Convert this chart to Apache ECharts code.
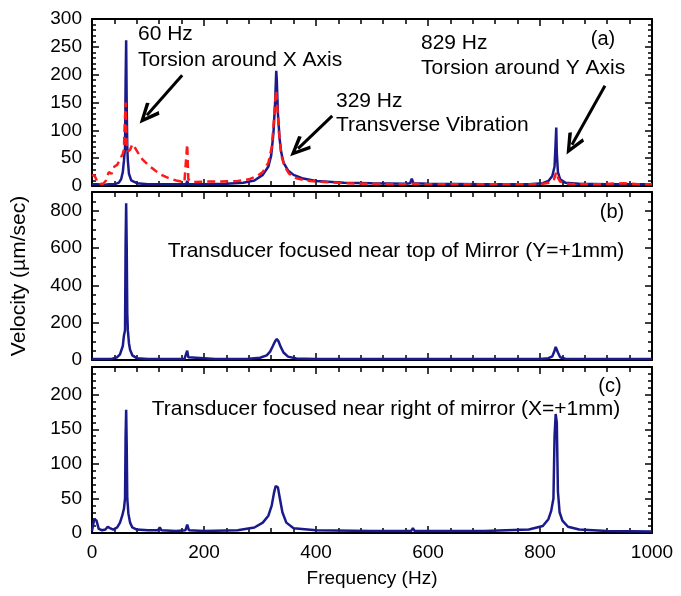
<!DOCTYPE html>
<html>
<head>
<meta charset="utf-8">
<script src="https://cdn.jsdelivr.net/npm/echarts@6/dist/echarts.min.js"></script>
<style>
  html, body { margin: 0; padding: 0; background: #fff; }
  #chart { width: 681px; height: 596px; }
</style>
</head>
<body>
<div id="chart"></div>
<script>
// spectra: [frequency Hz, velocity um/sec]
const panelABlue = [
  [0, 3], [10, 3], [20, 2], [30, 3], [40, 3], [48, 6], [52, 12], [55, 25], [57, 45], [59, 70],
  [60, 185], [61, 262], [62, 140], [63, 70], [64, 45], [66, 22], [70, 10], [80, 5], [100, 3],
  [130, 3], [160, 3], [168, 3], [170, 9], [172, 3], [200, 3], [240, 4], [270, 6], [290, 10],
  [305, 20], [315, 35], [320, 55], [324, 95], [327, 150], [329, 207], [330, 190], [332, 130],
  [335, 85], [338, 60], [342, 42], [350, 28], [360, 20], [375, 14], [400, 9], [450, 6],
  [500, 5], [560, 4], [568, 5], [571, 13], [574, 5], [600, 4], [700, 3], [780, 3], [805, 5],
  [815, 9], [822, 18], [826, 35], [828, 80], [829, 105], [830, 60], [832, 25], [836, 12],
  [845, 6], [870, 4], [920, 3], [1000, 3]
];
const panelARed = [
  [0, 20], [5, 18], [10, 6], [15, 4], [20, 4], [25, 10], [30, 25], [35, 22], [40, 35], [45, 38],
  [50, 48], [55, 58], [57, 65], [58, 100], [60, 150], [61, 110], [62, 75], [64, 62], [68, 65],
  [72, 75], [76, 70], [82, 60], [90, 48], [100, 38], [110, 30], [120, 22], [135, 15], [150, 10],
  [165, 7], [168, 10], [170, 75], [172, 12], [180, 7], [200, 8], [230, 8], [260, 9], [280, 12],
  [295, 18], [305, 25], [315, 42], [321, 70], [325, 120], [328, 165], [329, 172], [331, 140],
  [334, 95], [338, 55], [344, 35], [352, 22], [365, 14], [380, 10], [400, 8], [450, 5],
  [500, 4], [560, 3], [575, 4], [600, 3], [700, 3], [800, 3], [818, 6], [825, 12], [829, 25],
  [832, 15], [836, 8], [850, 4], [900, 3], [950, 5], [975, 3], [1000, 3]
];
const panelBBlue = [
  [0, 5], [20, 5], [35, 6], [45, 15], [50, 30], [55, 75], [57, 130], [59, 160], [60, 620],
  [61, 840], [62, 600], [63, 250], [64, 160], [66, 90], [68, 55], [72, 25], [80, 10], [100, 6],
  [140, 5], [165, 5], [168, 15], [170, 50], [172, 15], [175, 5], [220, 5], [280, 7], [300, 12],
  [312, 25], [318, 45], [323, 75], [327, 100], [330, 112], [333, 100], [337, 70], [342, 40],
  [350, 18], [365, 8], [400, 5], [500, 5], [572, 5], [575, 12], [578, 5], [700, 5], [800, 6],
  [815, 10], [822, 20], [826, 50], [828, 70], [830, 75], [832, 40], [836, 15], [845, 7],
  [900, 5], [1000, 5]
];
const panelCBlue = [
  [0, 3], [4, 20], [8, 18], [12, 6], [18, 4], [24, 5], [28, 9], [32, 7], [38, 5], [45, 8],
  [50, 15], [54, 25], [57, 35], [59, 50], [60, 140], [61, 178], [62, 125], [63, 50], [65, 28],
  [68, 15], [72, 8], [80, 5], [100, 4], [118, 4], [121, 8], [124, 4], [150, 3], [167, 4],
  [170, 12], [173, 4], [200, 3], [260, 4], [290, 8], [305, 15], [315, 25], [321, 40],
  [325, 58], [328, 68], [330, 70], [332, 66], [335, 52], [340, 30], [347, 15], [360, 7],
  [400, 4], [500, 3], [570, 3], [573, 7], [576, 3], [700, 3], [780, 5], [805, 10], [815, 20],
  [820, 32], [824, 50], [826, 140], [828, 172], [830, 160], [832, 60], [835, 30], [840, 18],
  [850, 9], [870, 5], [920, 3], [1000, 2]
];

// axis settings
const freqMin = 0, freqMax = 1000, freqStep = 200;
const yMaxA = 300, yStepA = 50;
const yMaxB = 900, yStepB = 200;
const yMaxC = 240, yStepC = 50;

// arrows in data coords of panel (a): [tail, head centre]
const arrows = [
  [[161, 199], [98, 127]],
  [[429, 126], [368, 67]],
  [[916, 180], [857, 74]]
];

const navy = '#1a1a8c';
const red = '#ff1a1a';
const font = 'Liberation Sans, Arial, sans-serif';
const grids = [
  { left: 92, right: 29, top: 19, height: 167 },
  { left: 92, right: 29, top: 192, height: 168 },
  { left: 92, right: 29, top: 367, height: 166 }
];

function xAxisFor(gridIndex, position, showLabels) {
  return {
    type: 'value', gridIndex, position, min: freqMin, max: freqMax, interval: freqStep,
    axisLine: { show: true, onZero: false, lineStyle: { color: '#000', width: 2 } },
    axisTick: { show: true, inside: true, length: 7, lineStyle: { color: '#000', width: 1.5 } },
    minorTick: { show: true, splitNumber: 5, length: 5, lineStyle: { color: '#000', width: 1.5 } },
    axisLabel: {
      show: showLabels, color: '#000', fontSize: 19, fontFamily: font, margin: 10,
      formatter: (v) => String(v)
    },
    splitLine: { show: false },
    name: showLabels ? 'Frequency (Hz)' : '',
    nameLocation: 'middle', nameGap: 36,
    nameTextStyle: { color: '#000', fontSize: 19, fontFamily: font }
  };
}
function yAxisFor(gridIndex, position, max, step, minors, showLabels) {
  return {
    type: 'value', gridIndex, position, min: 0, max, interval: step,
    axisLine: { show: true, onZero: false, lineStyle: { color: '#000', width: 2 } },
    axisTick: { show: true, inside: true, length: 7, lineStyle: { color: '#000', width: 1.5 } },
    minorTick: { show: true, splitNumber: minors, length: 4, lineStyle: { color: '#000', width: 1.5 } },
    axisLabel: { show: showLabels, color: '#000', fontSize: 19, fontFamily: font, margin: 10, showMaxLabel: max % step === 0 },
    splitLine: { show: false }
  };
}

const xAxes = [], yAxes = [];
[0, 1, 2].forEach((g) => {
  xAxes.push(xAxisFor(g, 'bottom', g === 2));
  xAxes.push(xAxisFor(g, 'top', false));
});
yAxes.push(yAxisFor(0, 'left', yMaxA, yStepA, 5, true));
yAxes.push(yAxisFor(0, 'right', yMaxA, yStepA, 5, false));
yAxes.push(yAxisFor(1, 'left', yMaxB, yStepB, 4, true));
yAxes.push(yAxisFor(1, 'right', yMaxB, yStepB, 4, false));
yAxes.push(yAxisFor(2, 'left', yMaxC, yStepC, 5, true));
yAxes.push(yAxisFor(2, 'right', yMaxC, yStepC, 5, false));

function lineSeries(name, data, xi, yi, color, dashed) {
  return {
    name, type: 'line', xAxisIndex: xi, yAxisIndex: yi, data,
    symbol: 'none', silent: true, animation: false, z: dashed ? 3 : 2,
    lineStyle: { color, width: 2.5, type: dashed ? [8, 5] : 'solid' }
  };
}

const series = [
  lineSeries('a-blue', panelABlue, 0, 0, navy, false),
  lineSeries('a-red', panelARed, 0, 0, red, true),
  lineSeries('b-blue', panelBBlue, 2, 2, navy, false),
  lineSeries('c-blue', panelCBlue, 4, 4, navy, false)
];
// open V-shaped arrow head
const chevron = 'path://M5,0 L10,9 L8.4,10 L5,3.6 L1.6,10 L0,9 Z';
series[1].markLine = {
  silent: true, animation: false,
  symbol: ['none', chevron], symbolSize: [18, 22],
  label: { show: false },
  lineStyle: { color: '#000', width: 3, type: 'solid' },
  itemStyle: { color: '#000' },
  data: arrows.map(([from, to]) => [{ coord: from }, { coord: to }])
};

function note(text, x, y, size, align) {
  return {
    type: 'text', x, y, silent: true,
    style: { text, fill: '#000', font: `${size}px ${font}`, textAlign: align || 'left', textVerticalAlign: 'middle' }
  };
}

const chart = echarts.init(document.getElementById('chart'), null, { renderer: 'canvas' });
chart.setOption({
  animation: false,
  backgroundColor: '#fff',
  grid: grids,
  xAxis: xAxes,
  yAxis: yAxes,
  series,
  graphic: [
    note('60 Hz', 138, 34, 21),
    note('Torsion around X Axis', 138, 60, 21),
    note('829 Hz', 421, 43, 21),
    note('Torsion around Y Axis', 421, 68, 21),
    note('329 Hz', 336, 101, 21),
    note('Transverse Vibration', 336, 125, 21),
    note('(a)', 603, 39, 20, 'center'),
    note('(b)', 612, 212, 20, 'center'),
    note('(c)', 610, 386, 20, 'center'),
    note('Transducer focused near top of Mirror (Y=+1mm)', 396, 251, 21, 'center'),
    note('Transducer focused near right of mirror (X=+1mm)', 386, 409, 21, 'center'),
    {
      type: 'text', x: 19, y: 276, rotation: Math.PI / 2, silent: true,
      style: { text: 'Velocity (µm/sec)', fill: '#000', font: `21px ${font}`, textAlign: 'center', textVerticalAlign: 'middle' }
    }
  ]
});
</script>
</body>
</html>
